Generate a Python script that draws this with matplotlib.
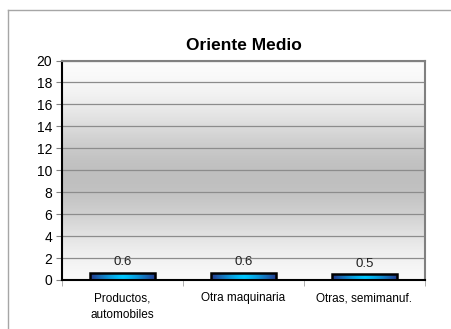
import numpy as np
import matplotlib.pyplot as plt
from matplotlib.lines import Line2D

plt.rcParams['font.family'] = ['Liberation Sans', 'DejaVu Sans']

# data
categories = ['Productos,\nautomobiles', 'Otra maquinaria', 'Otras, semimanuf.']
values = [0.6, 0.6, 0.5]
value_labels = ['0.6', '0.6', '0.5']
yticks = [0, 2, 4, 6, 8, 10, 12, 14, 16, 18, 20]

fig = plt.figure(figsize=(4.52, 3.29), dpi=100)
ax = fig.add_axes([0.137, 0.149, 0.803, 0.667])

x = np.arange(len(categories))
ax.set_xlim(-0.5, len(categories) - 0.5)
ax.set_ylim(0, 20)

# background gradient of plot area
t = np.linspace(0, 1, 256)
shade = 1 - 0.25 * np.exp(-((t - 0.47) / 0.3) ** 2)
bg = np.dstack([shade, shade, shade])[0][:, None, :]
ax.imshow(bg, extent=[-0.5, len(categories) - 0.5, 0, 20], aspect='auto',
          origin='lower', zorder=0, interpolation='bilinear')

# gridlines
for yv in yticks[1:]:
    ax.axhline(yv, color='#8c8c8c', lw=0.9, zorder=1)

# bars with horizontal gradient
bw = 0.54
s = np.linspace(-1, 1, 100)
mix = 1 - np.abs(s) ** 1.3
dark = np.array([0.15, 0.22, 0.55])
light = np.array([0.0, 0.78, 1.0])
grad = (dark[None, :] * (1 - mix[:, None]) + light[None, :] * mix[:, None])[None, :, :]
bars = ax.bar(x, values, width=bw, color='none', edgecolor='black', lw=1.8, zorder=3)
for b, v, lab in zip(bars, values, value_labels):
    im = ax.imshow(grad, extent=[b.get_x(), b.get_x() + bw, 0, v], aspect='auto',
                   zorder=2, interpolation='bilinear')
    im.set_clip_path(b)
    ax.text(b.get_x() + bw / 2, v + 0.45, lab, ha='center', va='bottom',
            fontsize=9.5, color='#222222')

# axes styling
ax.set_yticks(yticks)
ax.set_yticklabels([str(v) for v in yticks], fontsize=10)
ax.set_xticks(x)
ax.set_xticklabels(categories, fontsize=8.5, linespacing=1.45)
ax.tick_params(axis='x', length=0, pad=9)
ax.set_xticks([-0.5, 0.5, 1.5, 2.5], minor=True)
ax.tick_params(axis='x', which='minor', length=4, color='#a0a0a0')
ax.tick_params(axis='y', length=4, color='#808080', pad=3)
ax.spines['left'].set_color('black')
ax.spines['left'].set_linewidth(1.5)
ax.spines['bottom'].set_color('black')
ax.spines['bottom'].set_linewidth(1.5)
ax.spines['top'].set_color('#808080')
ax.spines['top'].set_linewidth(1.5)
ax.spines['right'].set_color('#808080')
ax.spines['right'].set_linewidth(1.5)

fig.text(0.5 * (0.137 + 0.94), 1 - 45 / 329, 'Oriente Medio', ha='center', va='center',
         fontsize=12.5, fontweight='bold')

# outer chart frame (only top and left visible)
W, H = 452, 329
fig.add_artist(Line2D([8 / W, 8 / W], [0, 1 - 10 / H], color='#a6a6a6', lw=1,
                      transform=fig.transFigure))
fig.add_artist(Line2D([8 / W, 1], [1 - 10 / H, 1 - 10 / H], color='#a6a6a6', lw=1,
                      transform=fig.transFigure))

fig.savefig('out.png', dpi=100)
